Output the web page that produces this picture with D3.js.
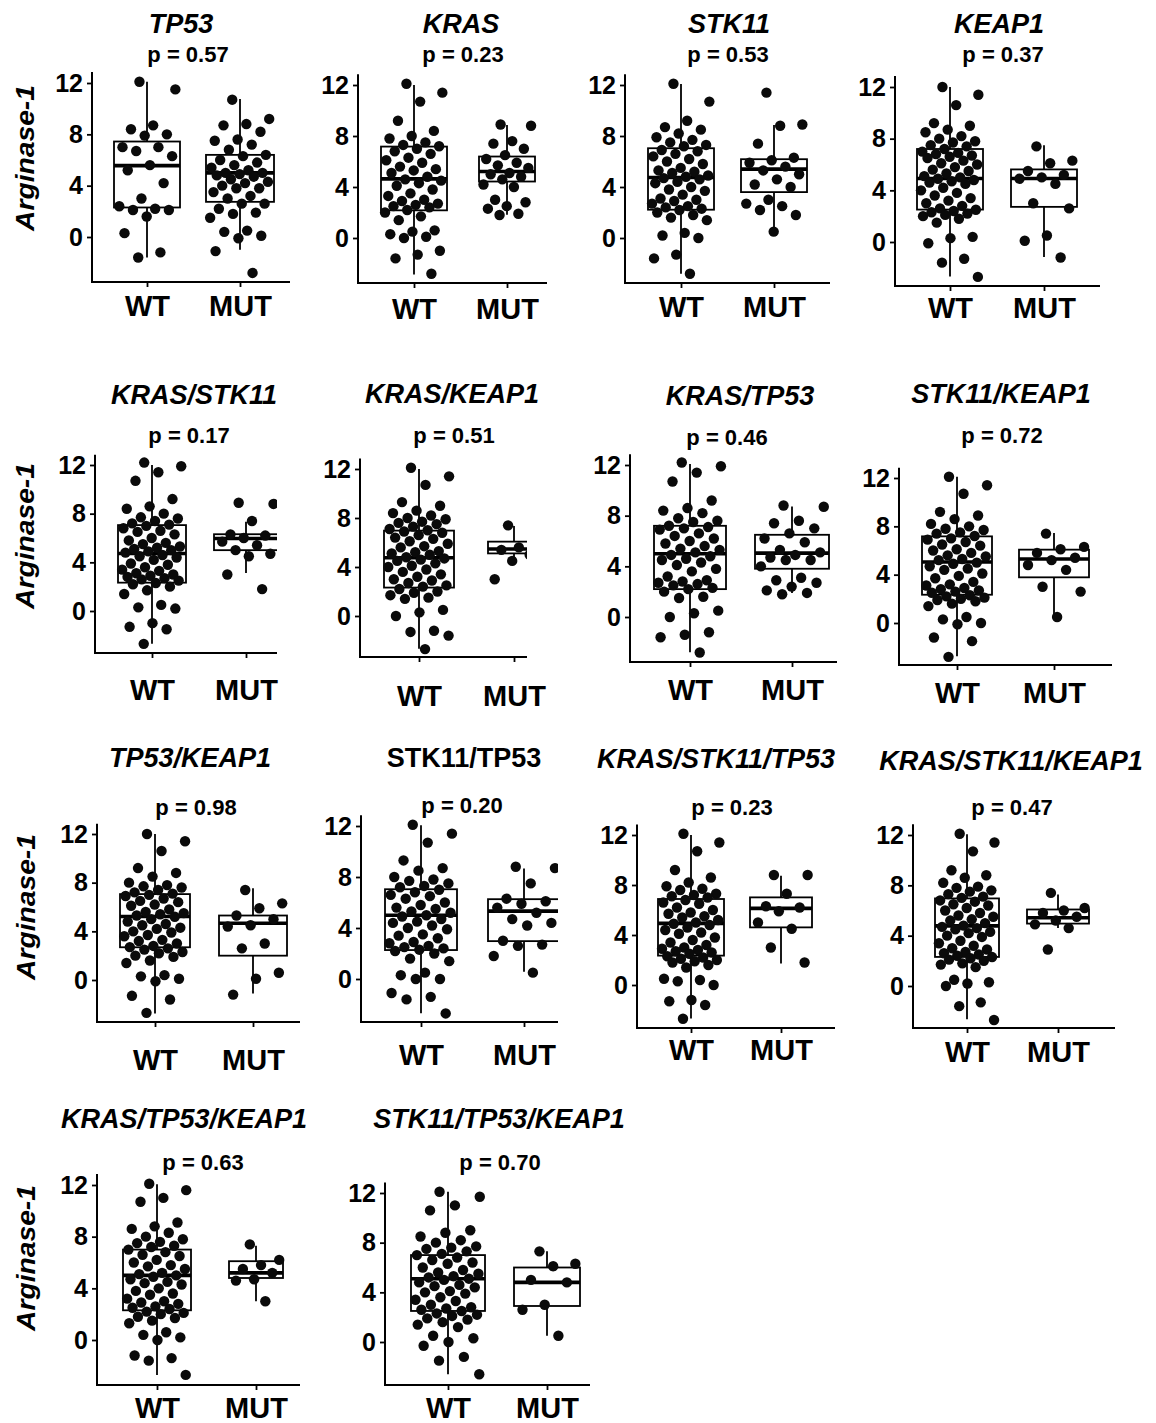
<!DOCTYPE html>
<html lang="en">
<head>
<meta charset="UTF-8">
<script src="https://cdn.jsdelivr.net/npm/d3@7"></script>
<title>Arginase-1 by mutation status</title>
<style>
  body { margin: 0; background: #fff; }
  text { font-family: "Liberation Sans", Arial, sans-serif; fill: #000; }
</style>
</head>
<body>
<svg id="chart" width="1156" height="1423"></svg>
<script>
// panel titles and p values
var titles = ["TP53", "KRAS", "STK11", "KEAP1",
  "KRAS/STK11", "KRAS/KEAP1", "KRAS/TP53", "STK11/KEAP1",
  "TP53/KEAP1", "STK11/TP53", "KRAS/STK11/TP53", "KRAS/STK11/KEAP1",
  "KRAS/TP53/KEAP1", "STK11/TP53/KEAP1"];
var pValues = ["0.57", "0.23", "0.53", "0.37", "0.17", "0.51", "0.46", "0.72",
  "0.98", "0.20", "0.23", "0.47", "0.63", "0.70"];
var groups = ["WT", "MUT"];
var yTicks = [0, 4, 8, 12];

// Arginase-1 values per group
var TP53_WT = [12.1, 11.5, 8.7, 8.4, 8.0, 7.9, 7.0, 7.0, 6.7, 6.3, 5.6, 5.2, 4.2, 3.0, 2.4, 2.2, 2.1, 2.1, 1.6, 0.3, -1.2, -1.6];
var TP53_MUT = [10.7, 9.2, 8.8, 8.7, 8.2, 7.6, 7.5, 7.2, 6.8, 6.4, 6.3, 6.0, 5.8, 5.6, 5.4, 5.2, 5.0, 5.0, 4.9, 4.8, 4.7, 4.5, 4.3, 4.2, 4.0, 3.8, 3.8, 3.5, 3.2, 3.0, 2.6, 2.6, 2.2, 1.9, 1.8, 1.5, 0.5, 0.4, 0.1, -0.1, -1.1, -2.8];
var KRAS_WT = [12.1, 11.4, 10.7, 9.2, 8.4, 8.0, 7.8, 7.5, 7.3, 7.2, 7.0, 6.8, 6.6, 6.3, 6.1, 5.9, 5.6, 5.4, 5.3, 5.1, 4.8, 4.6, 4.5, 4.3, 4.1, 3.8, 3.5, 3.3, 3.0, 2.9, 2.7, 2.6, 2.5, 2.4, 2.2, 2.0, 1.7, 1.4, 0.6, 0.5, 0.3, 0.1, 0.0, -1.0, -1.3, -1.6, -2.8];
var KRAS_MUT = [8.9, 8.8, 7.6, 7.4, 7.0, 6.5, 6.2, 5.9, 5.7, 5.5, 5.1, 5.0, 4.8, 4.6, 4.2, 4.0, 3.0, 2.8, 2.5, 2.3, 1.9, 1.8];
var STK11_WT = [12.1, 10.7, 9.2, 8.7, 8.5, 8.2, 7.9, 7.7, 7.5, 7.3, 7.2, 6.9, 6.8, 6.6, 6.4, 6.2, 6.0, 5.8, 5.5, 5.3, 5.2, 5.1, 4.9, 4.8, 4.7, 4.6, 4.4, 4.3, 4.0, 3.8, 3.7, 3.4, 3.1, 3.0, 2.9, 2.7, 2.5, 2.4, 2.3, 2.2, 2.0, 1.8, 1.6, 1.4, 0.4, 0.2, 0.0, -1.3, -1.6, -2.8];
var STK11_MUT = [11.4, 8.9, 8.8, 7.4, 6.3, 6.1, 5.9, 5.6, 5.3, 5.0, 4.6, 4.2, 4.0, 3.0, 2.7, 2.5, 2.2, 1.8, 0.5];
var KEAP1_WT = [12.0, 11.4, 10.6, 9.2, 9.0, 8.7, 8.5, 8.2, 8.0, 7.8, 7.7, 7.5, 7.4, 7.2, 7.0, 6.9, 6.8, 6.7, 6.6, 6.5, 6.3, 6.1, 6.0, 5.8, 5.6, 5.5, 5.3, 5.1, 5.0, 4.9, 4.8, 4.7, 4.6, 4.5, 4.2, 4.0, 3.8, 3.6, 3.4, 3.2, 3.0, 2.8, 2.6, 2.5, 2.4, 2.3, 2.2, 2.1, 2.0, 1.8, 1.5, 0.4, 0.3, -0.1, -1.3, -1.6, -2.7];
var KEAP1_MUT = [7.4, 6.3, 6.1, 5.5, 5.2, 5.0, 4.9, 4.5, 3.0, 2.6, 0.5, 0.1, -1.2];
var KRAS_STK11_WT = [12.2, 11.9, 11.4, 10.7, 9.2, 8.6, 8.4, 8.0, 7.7, 7.6, 7.4, 7.2, 7.1, 7.0, 6.8, 6.6, 6.5, 6.3, 6.0, 5.8, 5.6, 5.5, 5.3, 5.2, 5.1, 5.0, 4.9, 4.8, 4.6, 4.5, 4.4, 4.2, 3.9, 3.8, 3.6, 3.4, 3.3, 3.1, 3.0, 2.9, 2.8, 2.7, 2.6, 2.5, 2.3, 2.2, 2.0, 1.7, 1.4, 0.5, 0.3, 0.2, -1.0, -1.3, -1.5, -2.7];
var KRAS_STK11_MUT = [8.9, 8.8, 7.4, 6.3, 6.2, 6.0, 5.7, 5.4, 5.0, 4.7, 4.5, 3.0, 1.8];
var KRAS_KEAP1_WT = [12.1, 11.4, 10.7, 9.3, 9.0, 8.6, 8.4, 8.2, 8.0, 7.9, 7.7, 7.6, 7.5, 7.3, 7.1, 7.0, 6.9, 6.8, 6.6, 6.4, 6.3, 6.1, 5.9, 5.7, 5.6, 5.3, 5.2, 5.1, 5.0, 4.8, 4.7, 4.6, 4.5, 4.3, 4.1, 4.0, 3.8, 3.6, 3.4, 3.2, 3.0, 2.9, 2.7, 2.5, 2.4, 2.2, 2.0, 1.9, 1.7, 1.5, 1.4, 0.5, 0.3, 0.0, -1.2, -1.3, -1.6, -2.7];
var KRAS_KEAP1_MUT = [7.4, 6.2, 5.6, 5.4, 5.0, 4.5, 3.0];
var KRAS_TP53_WT = [12.2, 11.9, 11.4, 10.7, 9.2, 8.6, 8.4, 8.2, 7.8, 7.6, 7.5, 7.2, 7.1, 7.0, 6.9, 6.6, 6.4, 6.2, 6.0, 5.8, 5.6, 5.4, 5.3, 5.1, 4.9, 4.8, 4.6, 4.5, 4.3, 4.1, 3.8, 3.6, 3.2, 2.9, 2.8, 2.7, 2.6, 2.5, 2.3, 2.2, 2.0, 1.6, 1.5, 0.5, 0.3, 0.0, -1.2, -1.4, -1.6, -2.8];
var KRAS_TP53_MUT = [8.8, 8.7, 7.6, 7.4, 7.0, 6.6, 6.2, 5.9, 5.3, 5.1, 4.9, 4.7, 4.5, 4.5, 4.0, 3.1, 2.9, 2.7, 2.4, 2.1, 1.9, 1.8];
var STK11_KEAP1_WT = [12.1, 11.4, 10.7, 9.2, 8.9, 8.6, 8.2, 8.0, 7.8, 7.7, 7.5, 7.4, 7.2, 7.0, 6.9, 6.7, 6.5, 6.4, 6.1, 6.0, 5.8, 5.6, 5.5, 5.3, 5.2, 5.0, 4.9, 4.7, 4.5, 4.4, 4.1, 3.9, 3.7, 3.4, 3.2, 3.1, 2.9, 2.8, 2.7, 2.6, 2.5, 2.3, 2.2, 2.1, 2.0, 1.9, 1.8, 1.6, 1.4, 0.5, 0.3, 0.0, -0.1, -1.2, -1.5, -2.8];
var STK11_KEAP1_MUT = [7.4, 6.3, 6.1, 5.8, 5.4, 5.2, 4.8, 4.4, 3.0, 2.6, 0.5];
var TP53_KEAP1_WT = [12.0, 11.4, 10.6, 9.2, 8.8, 8.5, 8.0, 7.8, 7.7, 7.6, 7.4, 7.2, 7.1, 7.0, 6.9, 6.7, 6.5, 6.4, 6.2, 6.1, 5.8, 5.6, 5.5, 5.4, 5.3, 5.2, 5.0, 4.8, 4.6, 4.5, 4.3, 4.2, 4.0, 3.9, 3.7, 3.6, 3.3, 3.2, 3.0, 2.8, 2.7, 2.6, 2.5, 2.3, 2.2, 2.0, 1.9, 1.6, 1.4, 0.4, 0.3, 0.1, -0.1, -1.3, -1.6, -2.7];
var TP53_KEAP1_MUT = [7.4, 6.3, 5.9, 5.3, 5.0, 4.5, 4.4, 3.0, 2.6, 0.6, 0.1, -1.2];
var STK11_TP53_WT = [12.1, 11.4, 10.7, 9.3, 8.7, 8.5, 8.0, 7.8, 7.7, 7.5, 7.3, 7.2, 7.0, 6.8, 6.6, 6.5, 6.3, 6.0, 5.8, 5.6, 5.5, 5.3, 5.2, 5.0, 4.9, 4.7, 4.5, 4.4, 4.2, 4.0, 3.9, 3.5, 3.4, 3.2, 2.9, 2.8, 2.6, 2.5, 2.4, 2.3, 2.2, 2.0, 1.6, 1.4, 0.5, 0.3, 0.0, 0.0, -1.1, -1.4, -1.6, -2.7];
var STK11_TP53_MUT = [8.8, 8.7, 7.5, 6.3, 6.1, 5.9, 5.6, 5.2, 4.7, 4.4, 4.2, 3.0, 2.7, 2.6, 1.8, 0.5];
var KRAS_STK11_TP53_WT = [12.1, 11.4, 10.7, 9.2, 8.6, 8.2, 7.9, 7.7, 7.6, 7.3, 7.2, 7.1, 7.0, 6.8, 6.6, 6.5, 6.2, 6.0, 5.8, 5.7, 5.5, 5.4, 5.2, 5.0, 4.9, 4.8, 4.6, 4.4, 4.2, 4.1, 3.8, 3.6, 3.4, 3.2, 3.0, 2.9, 2.8, 2.7, 2.6, 2.5, 2.3, 2.2, 2.1, 2.0, 1.9, 1.8, 1.6, 1.4, 0.5, 0.4, 0.3, 0.0, -1.2, -1.3, -1.6, -2.7];
var KRAS_STK11_TP53_MUT = [8.8, 8.8, 7.3, 6.3, 6.2, 5.9, 5.0, 4.5, 3.0, 1.8];
var KRAS_STK11_KEAP1_WT = [12.1, 11.4, 10.7, 9.2, 8.8, 8.6, 8.2, 7.9, 7.8, 7.6, 7.5, 7.3, 7.1, 7.0, 6.8, 6.7, 6.5, 6.4, 6.2, 6.0, 5.8, 5.6, 5.5, 5.3, 5.2, 5.0, 4.8, 4.7, 4.6, 4.5, 4.3, 4.2, 4.0, 3.9, 3.6, 3.4, 3.2, 3.0, 2.9, 2.7, 2.6, 2.5, 2.4, 2.3, 2.2, 2.1, 2.0, 1.8, 1.7, 1.5, 0.5, 0.3, 0.2, 0.0, -1.3, -1.6, -2.7];
var KRAS_STK11_KEAP1_MUT = [7.4, 6.2, 6.0, 5.8, 5.5, 5.2, 4.9, 4.6, 2.9];
var KRAS_TP53_KEAP1_WT = [12.1, 11.6, 11.0, 10.7, 9.1, 8.8, 8.6, 8.3, 8.0, 7.8, 7.6, 7.5, 7.3, 7.2, 7.0, 6.8, 6.6, 6.5, 6.2, 6.0, 5.8, 5.7, 5.5, 5.2, 5.1, 5.0, 4.9, 4.7, 4.5, 4.4, 4.3, 4.0, 3.8, 3.6, 3.5, 3.2, 3.0, 2.9, 2.8, 2.6, 2.5, 2.4, 2.2, 2.1, 2.0, 1.8, 1.7, 1.5, 1.3, 0.6, 0.4, 0.2, 0.0, -1.2, -1.4, -1.6, -2.7];
var KRAS_TP53_KEAP1_MUT = [7.4, 6.2, 5.8, 5.5, 5.2, 4.7, 4.6, 3.0];
var STK11_TP53_KEAP1_WT = [12.1, 11.7, 11.0, 10.6, 9.0, 8.8, 8.5, 8.2, 8.0, 7.7, 7.6, 7.5, 7.3, 7.1, 7.0, 6.8, 6.6, 6.4, 6.3, 6.0, 5.8, 5.6, 5.5, 5.3, 5.2, 5.1, 5.0, 4.8, 4.6, 4.5, 4.4, 4.1, 4.0, 3.9, 3.6, 3.4, 3.3, 3.0, 2.8, 2.7, 2.6, 2.5, 2.3, 2.2, 2.1, 1.9, 1.8, 1.6, 1.4, 1.2, 0.5, 0.3, 0.0, -0.3, -1.2, -1.5, -2.6];
var STK11_TP53_KEAP1_MUT = [7.3, 6.3, 6.1, 5.0, 4.8, 3.0, 2.6, 0.5];

var wtValues = [TP53_WT, KRAS_WT, STK11_WT, KEAP1_WT, KRAS_STK11_WT, KRAS_KEAP1_WT, KRAS_TP53_WT,
  STK11_KEAP1_WT, TP53_KEAP1_WT, STK11_TP53_WT, KRAS_STK11_TP53_WT, KRAS_STK11_KEAP1_WT,
  KRAS_TP53_KEAP1_WT, STK11_TP53_KEAP1_WT];
var mutValues = [TP53_MUT, KRAS_MUT, STK11_MUT, KEAP1_MUT, KRAS_STK11_MUT, KRAS_KEAP1_MUT, KRAS_TP53_MUT,
  STK11_KEAP1_MUT, TP53_KEAP1_MUT, STK11_TP53_MUT, KRAS_STK11_TP53_MUT, KRAS_STK11_KEAP1_MUT,
  KRAS_TP53_KEAP1_MUT, STK11_TP53_KEAP1_MUT];

// box stats: [lower whisker, q1, median, q3, upper whisker]
var wtBox = [[-1.6, 2.3, 5.56, 7.44, 12.1], [-2.87, 2.17, 4.64, 7.17, 12.0], [-2.8, 2.22, 4.75, 7.04, 12.08],
  [-2.67, 2.51, 4.92, 7.2, 12.0], [-2.69, 2.33, 4.72, 7.06, 12.0], [-2.68, 2.32, 4.76, 6.97, 12.0],
  [-2.78, 2.2, 4.99, 7.2, 12.08], [-2.76, 2.34, 5.05, 7.17, 12.1], [-2.75, 2.69, 5.22, 7.06, 12.0],
  [-2.69, 2.27, 5.0, 7.04, 12.05], [-2.67, 2.35, 4.93, 6.88, 12.0], [-2.65, 2.31, 4.78, 6.96, 12.05],
  [-2.7, 2.3, 5.0, 7.0, 12.05], [-2.6, 2.5, 5.1, 7.0, 12.1]];
var mutBox = [[-1.0, 2.74, 5.0, 6.4, 10.75], [1.83, 4.43, 5.22, 6.39, 8.87], [0.65, 3.6, 5.4, 6.18, 8.87],
  [-1.17, 2.72, 4.92, 5.62, 7.5], [3.13, 5.0, 5.96, 6.31, 7.33], [4.5, 5.11, 5.47, 6.07, 7.35],
  [1.89, 3.81, 5.04, 6.49, 8.72], [0.55, 3.78, 5.3, 6.07, 7.45], [-1.1, 2.0, 4.67, 5.3, 7.55],
  [0.57, 2.97, 5.32, 6.26, 8.66], [1.73, 4.61, 6.13, 7.01, 8.75], [4.6, 4.96, 5.42, 6.08, 7.27],
  [3.0, 4.8, 5.2, 6.1, 7.3], [0.5, 2.9, 4.8, 6.0, 7.3]];

// panel frames: [axisX, y of 12, y of 0, xAxisY, axisEnd, wtX, mutX, wtHalfW, mutHalfW]
var frames = [
  [92, 83, 237, 282, 290, 147, 240, 33, 34],
  [358, 85, 238, 283, 547, 414, 507, 33, 28],
  [625, 85, 238, 283, 830, 681, 774, 33, 33],
  [895, 87, 242, 286, 1100, 950, 1044, 33, 33],
  [95, 465, 611, 653, 277, 152, 246, 34, 32],
  [360, 469, 616, 657, 527, 419, 514, 35, 26],
  [630, 465, 617, 662, 837, 690, 792, 36, 37],
  [899, 478, 623, 665, 1112, 957, 1054, 35, 35],
  [97, 834, 980, 1022, 300, 155, 253, 35, 34],
  [361, 826, 979, 1022, 558, 421, 524, 36, 36],
  [637, 835, 985, 1028, 835, 691, 781, 33, 31],
  [913, 835, 986, 1028, 1115, 967, 1058, 32, 31],
  [97, 1185, 1340, 1385, 300, 157, 256, 34, 27],
  [385, 1193, 1342, 1385, 590, 448, 547, 37, 33]
];
// text: [titleX, titleBaseline, pX, pBaseline, groupLabelBaseline]
var textPos = [
  [181, 33, 188, 62, 316], [461, 33, 463, 62, 319], [729, 33, 728, 62, 317], [999, 33, 1003, 62, 318],
  [194, 404, 189, 443, 700], [452, 403, 454, 443, 706], [740, 405, 727, 445, 700], [1001, 403, 1002, 443, 703],
  [190, 767, 196, 815, 1070], [464, 767, 462, 813, 1065], [716, 768, 732, 815, 1060], [1011, 770, 1012, 815, 1062],
  [184, 1128, 203, 1170, 1418], [499, 1128, 500, 1170, 1418]
];
var yLabelPos = [[34, 158], [34, 536], [35, 907], [35, 1258]];

var svg = d3.select("#chart");

yLabelPos.forEach(function(p) {
  svg.append("text")
    .attr("transform", "translate(" + p[0] + "," + p[1] + ") rotate(-90)")
    .attr("text-anchor", "middle")
    .attr("font-size", 26).attr("font-style", "italic").attr("font-weight", "bold")
    .attr("textLength", 146).attr("lengthAdjust", "spacingAndGlyphs")
    .text("Arginase-1");
});

titles.forEach(function(title, i) {
  var f = frames[i], t = textPos[i];
  var g = svg.append("g");

  var y = d3.scaleLinear().domain([0, 12]).range([f[2], f[1]]);
  var yTop = y(12.85);
  var x = d3.scaleOrdinal().domain(groups).range([f[5], f[6]]);
  var halfW = { WT: f[7], MUT: f[8] };

  g.append("text")
    .attr("x", t[0]).attr("y", t[1])
    .attr("text-anchor", "middle")
    .attr("font-size", 27).attr("font-weight", "bold")
    .attr("font-style", title === "STK11/TP53" ? "normal" : "italic")
    .text(title);
  g.append("text")
    .attr("x", t[2]).attr("y", t[3])
    .attr("text-anchor", "middle")
    .attr("font-size", 22).attr("font-weight", "bold")
    .text("p = " + pValues[i]);

  // clip the plotting area like the cropped originals
  var clipId = "clip" + i;
  g.append("clipPath").attr("id", clipId)
    .append("rect")
    .attr("x", f[0]).attr("y", yTop - 10)
    .attr("width", f[4] - f[0]).attr("height", f[3] - yTop + 10);

  var plot = g.append("g").attr("clip-path", "url(#" + clipId + ")");

  var boxes = [{ g: "WT", s: wtBox[i] }, { g: "MUT", s: mutBox[i] }];
  boxes.forEach(function(b) {
    var cx = x(b.g), hw = halfW[b.g], s = b.s;
    plot.append("line")
      .attr("x1", cx).attr("x2", cx).attr("y1", y(s[0])).attr("y2", y(s[1]))
      .attr("stroke", "#000").attr("stroke-width", 1.8);
    plot.append("line")
      .attr("x1", cx).attr("x2", cx).attr("y1", y(s[3])).attr("y2", y(s[4]))
      .attr("stroke", "#000").attr("stroke-width", 1.8);
    plot.append("rect")
      .attr("x", cx - hw).attr("y", y(s[3]))
      .attr("width", 2 * hw).attr("height", y(s[1]) - y(s[3]))
      .attr("fill", "#fff").attr("stroke", "#000").attr("stroke-width", 1.8);
    plot.append("line")
      .attr("x1", cx - hw).attr("x2", cx + hw).attr("y1", y(s[2])).attr("y2", y(s[2]))
      .attr("stroke", "#000").attr("stroke-width", 3.6);
  });

  // jittered points, deterministic spread across the box width
  var pts = [];
  wtValues[i].forEach(function(v, k) { pts.push({ g: "WT", v: v, k: k }); });
  mutValues[i].forEach(function(v, k) { pts.push({ g: "MUT", v: v, k: k }); });
  plot.selectAll("circle.pt").data(pts).enter().append("circle")
    .attr("class", "pt")
    .attr("cx", function(d) {
      var u = (d.k * 0.618034 + 0.37) % 1;
      return x(d.g) + (2 * u - 1) * halfW[d.g] * 0.88;
    })
    .attr("cy", function(d) { return y(d.v); })
    .attr("r", 5.2)
    .attr("fill", "#0a0a0a");

  // y axis
  var yAxis = d3.axisLeft(y).tickValues(yTicks).tickSize(5).tickPadding(4);
  var ya = g.append("g").attr("transform", "translate(" + f[0] + ",0)").call(yAxis);
  ya.select(".domain").remove();
  ya.selectAll(".tick line").attr("stroke", "#000").attr("stroke-width", 1.8);
  ya.selectAll(".tick text").attr("font-size", 25).attr("font-weight", "bold")
    .attr("font-family", "Liberation Sans, Arial, sans-serif").attr("fill", "#000");
  g.append("line")
    .attr("x1", f[0]).attr("x2", f[0]).attr("y1", yTop).attr("y2", f[3] + 1)
    .attr("stroke", "#000").attr("stroke-width", 2);

  // x axis
  var xAxis = d3.axisBottom(x).tickSize(5).tickPadding(4);
  var xa = g.append("g").attr("transform", "translate(0," + f[3] + ")").call(xAxis);
  xa.select(".domain").remove();
  xa.selectAll(".tick line").attr("stroke", "#000").attr("stroke-width", 1.8);
  xa.selectAll(".tick text")
    .attr("y", t[4] - f[3]).attr("dy", 0)
    .attr("font-size", 29).attr("font-weight", "bold")
    .attr("font-family", "Liberation Sans, Arial, sans-serif").attr("fill", "#000");
  g.append("line")
    .attr("x1", f[0] - 1).attr("x2", f[4]).attr("y1", f[3]).attr("y2", f[3])
    .attr("stroke", "#000").attr("stroke-width", 2);
});
</script>
</body>
</html>
